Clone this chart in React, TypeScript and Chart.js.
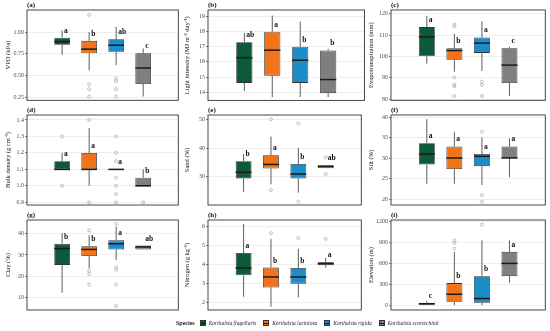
import React, { useEffect, useRef } from 'react';
import { Chart, registerables } from 'chart.js';

Chart.register(...registerables);

// ---------------- data ----------------
const species = ['Korthalsia flagellaris', 'Korthalsia laciniosa', 'Korthalsia rigida', 'Korthalsia scortechinii'];
const speciesColors = ['#0d5a3b', '#f2741a', '#1d8dca', '#7f7f7f'];
const speciesIndex = [0, 1, 2, 3];

// each stats row: [lower whisker, Q1, median, Q3, upper whisker]
const vpdStats = [[0.74, 0.854, 0.892, 0.937, 1.02], [0.56, 0.757, 0.805, 0.9, 1.0], [0.62, 0.775, 0.85, 0.918, 1.06], [0.26, 0.404, 0.588, 0.757, 0.813]];
const vpdOutliers = [[], [1.2, 0.4, 0.345, 0.26], [0.468, 0.438, 0.345, 0.26], []];
const vpdLetters = ['a', 'b', 'ab', 'c'];
const vpdRange = [0.216, 1.255];
const vpdTicks = [0.25, 0.5, 0.75, 1.0];
const vpdTickLabels = ['0.25', '0.50', '0.75', '1.00'];

const lightStats = [[14.07, 14.61, 16.28, 17.3, 17.91], [13.67, 15.09, 16.78, 18.0, 19.07], [13.67, 14.61, 16.11, 17.0, 18.67], [13.67, 13.93, 14.83, 16.76, 16.87]];
const lightOutliers = [[], [], [], []];
const lightLetters = ['ab', 'a', 'b', 'b'];
const lightRange = [13.45, 19.44];
const lightTicks = [14, 15, 16, 17, 18, 19];
const lightTickLabels = ['14', '15', '16', '17', '18', '19'];

const etStats = [[96.7, 100.1, 109.2, 113.8, 119.1], [92.9, 98.5, 102.8, 103.9, 110.7], [93.2, 101.7, 106.3, 108.9, 116.5], [81.5, 87.6, 96.0, 103.9, 104.6]];
const etOutliers = [[], [115, 114.2, 90.2, 86.8, 86.1, 81.5], [88.3, 86.8, 81.5], []];
const etLetters = ['a', 'b', 'a', 'c'];
const etRange = [79.5, 121.8];
const etTicks = [80, 90, 100, 110, 120];
const etTickLabels = ['80', '90', '100', '110', '120'];

const bdStats = [[1.1, 1.1, 1.1, 1.15, 1.2], [1.0, 1.1, 1.1, 1.2, 1.35], [1.1, 1.1, 1.1, 1.1, 1.1], [1.0, 1.0, 1.0, 1.05, 1.1]];
const bdOutliers = [[1.3, 1.0], [1.4, 0.9], [1.3, 1.2, 1.15, 1.05, 1.0, 0.95, 0.9], [0.9]];
const bdLetters = ['a', 'a', 'a', 'b'];
const bdRange = [0.884, 1.43];
const bdTicks = [0.9, 1.0, 1.1, 1.2, 1.3, 1.4];
const bdTickLabels = ['0.9', '1.0', '1.1', '1.2', '1.3', '1.4'];

const sandStats = [[24.8, 29.4, 31.6, 35.4, 37.9], [27.4, 32.9, 34.3, 37.5, 44.0], [24.5, 29.4, 31.0, 34.5, 40.0], [33.0, 33.0, 33.6, 34.0, 34.0]];
const sandOutliers = [[], [50.0, 25.4], [48.6, 21.4], [36.8, 31.0]];
const sandLetters = ['b', 'a', 'b', 'ab'];
const sandRange = [20.2, 51.5];
const sandTicks = [30, 40, 50];
const sandTickLabels = ['30', '40', '50'];

const siltStats = [[23.8, 28.5, 31.05, 33.7, 39.6], [23.8, 27.4, 30.1, 32.9, 36.5], [23.5, 28.1, 30.5, 31.05, 35.1], [25.4, 30.1, 30.1, 32.9, 34.9]];
const siltOutliers = [[], [], [36.5, 21.0, 19.4], []];
const siltLetters = ['a', 'a', 'a', 'a'];
const siltRange = [18.6, 40.6];
const siltTicks = [20, 25, 30, 35, 40];
const siltTickLabels = ['20', '25', '30', '35', '40'];

const clayStats = [[12.1, 25.3, 33.0, 35.3, 40.3], [23.7, 29.5, 32.6, 34.1, 39.2], [27.6, 32.6, 35.3, 36.9, 43.4], [32.6, 32.6, 33.8, 34.4, 34.4]];
const clayOutliers = [[], [41.6, 22.5, 21.1, 16.0], [44.7, 24.2, 23.0, 16.0, 5.9], []];
const clayLetters = ['b', 'b', 'a', 'ab'];
const clayRange = [4.0, 46.5];
const clayTicks = [10, 20, 30, 40];
const clayTickLabels = ['10', '20', '30', '40'];

const nStats = [[2.31, 3.44, 3.82, 4.6, 6.12], [1.79, 2.8, 3.35, 3.84, 5.34], [2.28, 3.0, 3.35, 3.82, 4.82], [3.84, 3.96, 4.04, 4.13, 4.36]];
const nOutliers = [[], [5.64], [5.39], [5.34]];
const nLetters = ['a', 'b', 'b', 'a'];
const nRange = [1.62, 6.33];
const nTicks = [2, 3, 4, 5, 6];
const nTickLabels = ['2', '3', '4', '5', '6'];

const elevStats = [[0, 5, 19, 33, 56], [0, 47, 155, 314, 760], [0, 33, 94, 413, 923], [319, 413, 595, 760, 923]];
const elevOutliers = [[], [923, 890, 806], [1148], []];
const elevLetters = ['c', 'b', 'b', 'a'];
const elevRange = [-70, 1215];
const elevTicks = [0, 300, 600, 900, 1200];
const elevTickLabels = ['0', '300', '600', '900', '1200'];

type PanelDef = {
  tag: string;
  title: string;
  stats: number[][];
  outliers: number[][];
  letters: string[];
  range: number[];
  ticks: number[];
  tickLabels: string[];
};

const panels: PanelDef[] = [
  { tag: '(a)', title: 'VPD (kPa)', stats: vpdStats, outliers: vpdOutliers, letters: vpdLetters, range: vpdRange, ticks: vpdTicks, tickLabels: vpdTickLabels },
  { tag: '(b)', title: 'Light intensity (MJ m\u207B\u00B2 day\u207B\u00B9)', stats: lightStats, outliers: lightOutliers, letters: lightLetters, range: lightRange, ticks: lightTicks, tickLabels: lightTickLabels },
  { tag: '(c)', title: 'Evapotranspiration (mm)', stats: etStats, outliers: etOutliers, letters: etLetters, range: etRange, ticks: etTicks, tickLabels: etTickLabels },
  { tag: '(d)', title: 'Bulk density (g cm\u207B\u00B3)', stats: bdStats, outliers: bdOutliers, letters: bdLetters, range: bdRange, ticks: bdTicks, tickLabels: bdTickLabels },
  { tag: '(e)', title: 'Sand (%)', stats: sandStats, outliers: sandOutliers, letters: sandLetters, range: sandRange, ticks: sandTicks, tickLabels: sandTickLabels },
  { tag: '(f)', title: 'Silt (%)', stats: siltStats, outliers: siltOutliers, letters: siltLetters, range: siltRange, ticks: siltTicks, tickLabels: siltTickLabels },
  { tag: '(g)', title: 'Clay (%)', stats: clayStats, outliers: clayOutliers, letters: clayLetters, range: clayRange, ticks: clayTicks, tickLabels: clayTickLabels },
  { tag: '(h)', title: 'Nitrogen (g kg\u207B\u00B9)', stats: nStats, outliers: nOutliers, letters: nLetters, range: nRange, ticks: nTicks, tickLabels: nTickLabels },
  { tag: '(i)', title: 'Elevation (m)', stats: elevStats, outliers: elevOutliers, letters: elevLetters, range: elevRange, ticks: elevTicks, tickLabels: elevTickLabels },
];

// ---------------- layout ----------------
const cols = [
  { left: 0, width: 183, axisW: 27, padR: 3, titlePad: 4.5 },
  { left: 182, width: 184, axisW: 26, padR: 1.5, titlePad: 1 },
  { left: 365, width: 185, axisW: 26, padR: 2, titlePad: 2 },
];
const rows = [
  { top: 0, height: 105, padB: 3 },
  { top: 105, height: 105, padB: 5 },
  { top: 210, height: 105, padB: 5 },
];

const SERIF = "'Liberation Serif', 'Times New Roman', serif";
const INK = '#333333';

function PanelChart({ panel, col, row }: { panel: PanelDef; col: typeof cols[0]; row: typeof rows[0] }) {
  const ref = useRef<HTMLCanvasElement | null>(null);
  useEffect(() => {
    if (!ref.current) return;
    const p = panel;
    const extras = {
      id: 'boxExtras',
      beforeDatasetsDraw(chart: any) {
        const { ctx, scales } = chart;
        const x = scales.x, y = scales.y;
        ctx.save();
        ctx.strokeStyle = INK;
        ctx.lineWidth = 0.8;
        p.stats.forEach((s, i) => {
          const cx = x.getPixelForValue(i);
          ctx.beginPath();
          ctx.moveTo(cx, y.getPixelForValue(s[0]));
          ctx.lineTo(cx, y.getPixelForValue(s[1]));
          ctx.moveTo(cx, y.getPixelForValue(s[3]));
          ctx.lineTo(cx, y.getPixelForValue(s[4]));
          ctx.stroke();
        });
        ctx.restore();
      },
      afterDatasetsDraw(chart: any) {
        const { ctx, scales } = chart;
        const x = scales.x, y = scales.y;
        const meta = chart.getDatasetMeta(0);
        ctx.save();
        ctx.strokeStyle = '#1a1a1a';
        ctx.lineWidth = 1.5;
        p.stats.forEach((s, i) => {
          const bar: any = meta.data[i];
          const cx = x.getPixelForValue(i);
          const hw = bar ? bar.width / 2 : 10;
          const my = y.getPixelForValue(s[2]);
          ctx.beginPath();
          ctx.moveTo(cx - hw, my);
          ctx.lineTo(cx + hw, my);
          ctx.stroke();
        });
        ctx.fillStyle = '#111';
        ctx.font = `bold 7.5px ${SERIF}`;
        ctx.textAlign = 'left';
        ctx.textBaseline = 'middle';
        p.letters.forEach((l, i) => {
          const cx = x.getPixelForValue(i);
          ctx.fillText(l, cx + 2, y.getPixelForValue(p.stats[i][3]) - 7);
        });
        ctx.restore();
      },
      afterDraw(chart: any) {
        const { ctx, chartArea } = chart;
        ctx.save();
        ctx.strokeStyle = INK;
        ctx.lineWidth = 0.9;
        ctx.strokeRect(chartArea.left, chartArea.top, chartArea.right - chartArea.left, chartArea.bottom - chartArea.top);
        ctx.fillStyle = '#111';
        ctx.font = `bold 7px ${SERIF}`;
        ctx.textAlign = 'left';
        ctx.textBaseline = 'middle';
        ctx.fillText(p.tag, chartArea.left, chartArea.top - 5);
        ctx.restore();
      },
    };
    const boxData = p.stats.map((s, i) => ({ x: i, y: [s[1], s[3]] }));
    const outData: { x: number; y: number }[] = [];
    p.outliers.forEach((arr, i) => arr.forEach((v) => outData.push({ x: i, y: v })));
    const chart = new Chart(ref.current, {
      type: 'bar',
      data: {
        datasets: [
          {
            type: 'bar',
            data: boxData as any,
            backgroundColor: speciesColors,
            borderColor: INK,
            borderWidth: 0.8,
            borderSkipped: false,
            barPercentage: 0.58,
            categoryPercentage: 1,
            order: 2,
          } as any,
          {
            type: 'scatter',
            data: outData,
            pointRadius: 1.5,
            pointBorderWidth: 0.7,
            borderColor: '#a5a5a5',
            backgroundColor: 'rgba(255,255,255,0)',
            order: 1,
          } as any,
        ],
      },
      options: {
        animation: false,
        responsive: false,
        maintainAspectRatio: false,
        events: [],
        layout: { padding: { left: 0, right: col.padR, top: 10, bottom: row.padB } },
        plugins: { legend: { display: false }, tooltip: { enabled: false } },
        scales: {
          x: {
            type: 'linear',
            min: -0.6,
            max: 3.6,
            display: false,
            afterBuildTicks: (s: any) => {
              s.ticks = speciesIndex.map((v) => ({ value: v }));
            },
          },
          y: {
            type: 'linear',
            min: p.range[0],
            max: p.range[1],
            afterBuildTicks: (s: any) => {
              s.ticks = p.ticks.map((v) => ({ value: v }));
            },
            afterFit: (s: any) => {
              s.width = col.axisW;
            },
            ticks: {
              callback: (_v: any, idx: number) => p.tickLabels[idx],
              font: { family: SERIF, size: 6 },
              color: '#4d4d4d',
              padding: 1,
              autoSkip: false,
            },
            grid: { color: '#e2e2e2', lineWidth: 0.6, tickLength: 2, tickColor: INK, drawTicks: true },
            border: { display: false },
            title: {
              display: true,
              text: p.title,
              font: { family: SERIF, size: 6.5 },
              color: '#111',
              padding: { top: col.titlePad, bottom: 0 },
            },
          },
        },
      } as any,
      plugins: [extras as any],
    });
    return () => chart.destroy();
  }, [panel, col, row]);
  return (
    <canvas
      ref={ref}
      width={col.width}
      height={row.height}
      style={{ position: 'absolute', left: col.left, top: row.top, width: col.width, height: row.height }}
    />
  );
}

function LegendKey({ color }: { color: string }) {
  return (
    <span
      style={{
        position: 'relative',
        display: 'inline-block',
        width: 6,
        height: 6,
        background: color,
        border: `0.6px solid ${INK}`,
        marginRight: 3,
        boxSizing: 'border-box',
      }}
    >
      <span style={{ position: 'absolute', left: 0, right: 0, top: 2, height: 1, background: '#111' }} />
    </span>
  );
}

export default function App() {
  return (
    <div style={{ position: 'absolute', left: 0, top: 0, width: 550, height: 331, background: '#fff', overflow: 'hidden' }}>
      {panels.map((p, k) => (
        <PanelChart key={p.tag} panel={p} col={cols[k % 3]} row={rows[Math.floor(k / 3)]} />
      ))}
      <div
        style={{
          position: 'absolute',
          left: 176,
          top: 318,
          height: 10,
          display: 'flex',
          alignItems: 'center',
          fontFamily: SERIF,
          fontSize: 5.5,
          color: '#222',
          whiteSpace: 'nowrap',
        }}
      >
        <span style={{ fontWeight: 'bold', fontSize: 6, marginRight: 5 }}>Species</span>
        {species.map((s, i) => (
          <span key={s} style={{ display: 'inline-flex', alignItems: 'center', marginRight: 7 }}>
            <LegendKey color={speciesColors[i]} />
            <span style={{ fontStyle: 'italic' }}>{s}</span>
          </span>
        ))}
      </div>
    </div>
  );
}
